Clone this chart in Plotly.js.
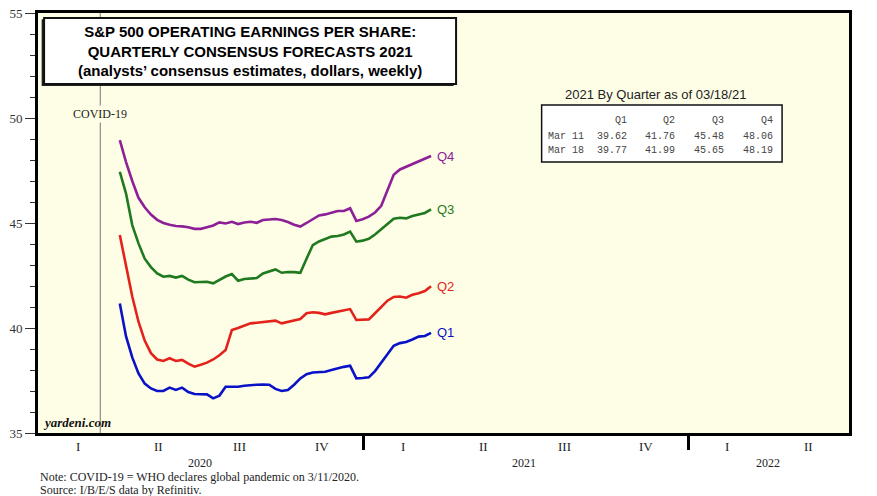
<!DOCTYPE html>
<html>
<head>
<meta charset="utf-8">
<script src="https://cdn.plot.ly/plotly-3.0.1.min.js"></script>
<style>
html,body{margin:0;padding:0;background:#fff;}
#chart{width:877px;height:496px;}
</style>
</head>
<body>
<div id="chart"></div>
<script>
// ---- data (weekly, Thursdays from 2020-04-02 to 2021-03-18) ----
const startDate = '2020-04-02';
const nWeeks = 51;
const q1 = [41.17,39.6,38.6,37.84,37.35,37.12,37.0,37.0,37.16,37.05,37.16,36.95,36.86,36.85,36.84,36.65,36.78,37.2,37.2,37.2,37.25,37.29,37.3,37.31,37.3,37.1,37.0,37.05,37.3,37.6,37.8,37.88,37.9,37.92,38.0,38.08,38.15,38.2,37.6,37.62,37.65,37.95,38.35,38.8,39.15,39.28,39.33,39.45,39.59,39.62,39.77];
const q2 = [44.43,43.0,41.5,40.3,39.4,38.8,38.5,38.43,38.56,38.43,38.48,38.3,38.16,38.25,38.35,38.5,38.7,38.95,39.9,40.0,40.1,40.22,40.25,40.28,40.32,40.35,40.22,40.3,40.38,40.43,40.7,40.75,40.72,40.65,40.72,40.78,40.84,40.9,40.38,40.38,40.41,40.7,41.0,41.3,41.48,41.5,41.44,41.58,41.66,41.76,41.99];
const q3 = [47.44,46.4,44.9,44.03,43.3,42.9,42.6,42.44,42.48,42.4,42.48,42.3,42.18,42.2,42.2,42.13,42.3,42.45,42.57,42.25,42.33,42.35,42.38,42.6,42.7,42.79,42.63,42.67,42.66,42.63,43.3,43.95,44.12,44.25,44.35,44.38,44.45,44.59,44.11,44.16,44.25,44.45,44.7,44.95,45.2,45.25,45.22,45.33,45.42,45.48,45.65];
const q4 = [48.95,47.9,47.0,46.2,45.75,45.4,45.15,45.0,44.92,44.86,44.84,44.8,44.72,44.72,44.8,44.88,45.03,44.98,45.06,44.95,45.02,45.06,45.01,45.14,45.17,45.19,45.14,45.05,44.92,44.83,45.0,45.2,45.36,45.41,45.5,45.57,45.57,45.7,45.1,45.18,45.3,45.5,45.82,46.6,47.3,47.55,47.68,47.8,47.92,48.06,48.19];
const seriesNames = ['Q1','Q2','Q3','Q4'];
const seriesColors = ['#0a12c8','#e3231b','#1f7a1f','#8d2096'];

const quarterLabels = ['I','II','III','IV','I','II','III','IV','I','II'];
const quarterMid = ['2020-02-15','2020-05-16','2020-08-15','2020-11-15','2021-02-15','2021-05-16','2021-08-15','2021-11-15','2022-02-14','2022-05-16'];
const yearLabels = ['2020','2021','2022'];
const yearMid = ['2020-07-01','2021-07-01','2022-04-01'];

const tableTitle = '2021 By Quarter as of 03/18/21';
const tableHeader = ['Q1','Q2','Q3','Q4'];
const tableRows = ['Mar 11','Mar 18'];
const tableValues = [['39.62','41.76','45.48','48.06'],['39.77','41.99','45.65','48.19']];

const covidDate = '2020-03-11';

// ---- build dates ----
function addDays(s, d){ const t = new Date(s+'T00:00:00Z'); t.setUTCDate(t.getUTCDate()+d); return t.toISOString().slice(0,10); }
const dates = [];
for(let i=0;i<nWeeks;i++) dates.push(addDays(startDate, 7*i));

const allSeries = [q1,q2,q3,q4];
const traces = allSeries.map((s,k)=>({
  x: dates, y: s, type:'scatter', mode:'lines', name: seriesNames[k],
  line:{color:seriesColors[k], width:2.6}, hoverinfo:'skip', showlegend:false
}));

const serif = 'Liberation Serif, Times New Roman, serif';
const sans = 'Liberation Sans, Arial, sans-serif';
const mono = 'Courier New, Liberation Mono, monospace';
const bg = '#fefee6';

const annotations = [];
// series end labels
allSeries.forEach((s,k)=>{
  annotations.push({x: dates[dates.length-1], y: s[s.length-1], xref:'x', yref:'y', text: seriesNames[k],
    showarrow:false, xanchor:'left', xshift:4, font:{family:sans, size:13, color:seriesColors[k]}});
});
// quarter labels
quarterLabels.forEach((q,i)=>{
  annotations.push({x: quarterMid[i], y:-0.033, xref:'x', yref:'paper', text:q, showarrow:false,
    font:{family:serif, size:13, color:'#222'}, yanchor:'middle'});
});
yearLabels.forEach((q,i)=>{
  annotations.push({x: yearMid[i], y:-0.071, xref:'x', yref:'paper', text:q, showarrow:false,
    font:{family:serif, size:12, color:'#222'}, yanchor:'middle'});
});
// notes
annotations.push({x:0, y:-0.105, xref:'paper', yref:'paper', xanchor:'left', yanchor:'middle', showarrow:false,
  text:'Note: COVID-19 = WHO declares global pandemic on 3/11/2020.', font:{family:serif, size:12, color:'#222'}});
annotations.push({x:0, y:-0.136, xref:'paper', yref:'paper', xanchor:'left', yanchor:'middle', showarrow:false,
  text:'Source: I/B/E/S data by Refinitiv.', font:{family:serif, size:12, color:'#222'}});
// yardeni
annotations.push({x:0.004, y:0.025, xref:'paper', yref:'paper', xanchor:'left', yanchor:'middle', showarrow:false,
  text:'<b><i>yardeni.com</i></b>', font:{family:serif, size:13, color:'#111'}});
// covid label
annotations.push({x:covidDate, y:0.76, xref:'x', yref:'paper', showarrow:false, yanchor:'middle',
  text:'COVID-19', font:{family:serif, size:12, color:'#222'}, bgcolor:bg});
// title
annotations.push({x:0.261, y:0.91, xref:'paper', yref:'paper', showarrow:false, xanchor:'center', yanchor:'middle',
  text:'<b>S&P 500 OPERATING EARNINGS PER SHARE:<br>QUARTERLY CONSENSUS FORECASTS 2021<br>(analysts’ consensus estimates, dollars, weekly)</b>',
  font:{family:sans, size:15, color:'#000'}});
// table title
annotations.push({x:0.762, y:0.805, xref:'paper', yref:'paper', showarrow:false, xanchor:'center', yanchor:'middle',
  text:tableTitle, font:{family:sans, size:13, color:'#222'}});
// table cells
const colRight = [0.7292,0.7883,0.8486,0.9089];
const rowY = [0.745, 0.705, 0.673];
tableHeader.forEach((h,j)=>{
  annotations.push({x:colRight[j], y:rowY[0], xref:'paper', yref:'paper', showarrow:false, xanchor:'right', yanchor:'middle',
    text:h, font:{family:mono, size:10, color:'#444'}});
});
tableRows.forEach((r,i)=>{
  annotations.push({x:0.627, y:rowY[i+1], xref:'paper', yref:'paper', showarrow:false, xanchor:'left', yanchor:'middle',
    text:r, font:{family:mono, size:10, color:'#444'}});
  tableValues[i].forEach((v,j)=>{
    annotations.push({x:colRight[j], y:rowY[i+1], xref:'paper', yref:'paper', showarrow:false, xanchor:'right', yanchor:'middle',
      text:v, font:{family:mono, size:10, color:'#444'}});
  });
});

const shapes = [
  {type:'line', xref:'x', yref:'paper', x0:covidDate, x1:covidDate, y0:0, y1:1, line:{color:'#777', width:1}, layer:'below'},
  // title box shadow + box
  {type:'rect', xref:'paper', yref:'paper', x0:0.0045, x1:0.5125, y0:0.826, y1:0.985, fillcolor:'#222', line:{width:0}, layer:'above'},
  {type:'rect', xref:'paper', yref:'paper', x0:0.0075, x1:0.5155, y0:0.831, y1:0.988, fillcolor:'#fff', line:{color:'#111', width:2}, layer:'above'},
  // table box
  {type:'rect', xref:'paper', yref:'paper', x0:0.621, x1:0.9175, y0:0.645, y1:0.781, fillcolor:'#fff', line:{color:'#111', width:1.5}, layer:'above'}
];

const layout = {
  width:877, height:496,
  margin:{l:37.5, r:27.5, t:13, b:63},
  paper_bgcolor:'#fff', plot_bgcolor:bg,
  showlegend:false,
  xaxis:{type:'date', range:['2020-01-01','2022-07-01'], showgrid:false, zeroline:false,
    showline:true, linecolor:'#000', linewidth:3, mirror:true,
    tickvals:['2021-01-01','2022-01-01'], ticks:'outside', ticklen:14, tickwidth:3, tickcolor:'#000',
    showticklabels:false},
  yaxis:{range:[35,55], dtick:5, tick0:35, showgrid:false, zeroline:false,
    showline:true, linecolor:'#000', linewidth:3, mirror:true,
    ticks:'outside', ticklen:10, tickwidth:1, tickcolor:'#333',
    minor:{dtick:1, ticks:'outside', ticklen:5, tickwidth:1, tickcolor:'#333'},
    tickfont:{family:serif, size:13, color:'#333'}},
  yaxis2:{range:[35,55], dtick:5, tick0:35, overlaying:'y', side:'right', showgrid:false, zeroline:false,
    ticks:'outside', ticklen:10, tickwidth:1, tickcolor:'#333',
    minor:{dtick:1, ticks:'outside', ticklen:5, tickwidth:1, tickcolor:'#333'},
    tickfont:{family:serif, size:13, color:'#333'}},
  annotations: annotations,
  shapes: shapes
};

Plotly.newPlot('chart', traces, layout, {staticPlot:true, displayModeBar:false});
</script>
</body>
</html>
